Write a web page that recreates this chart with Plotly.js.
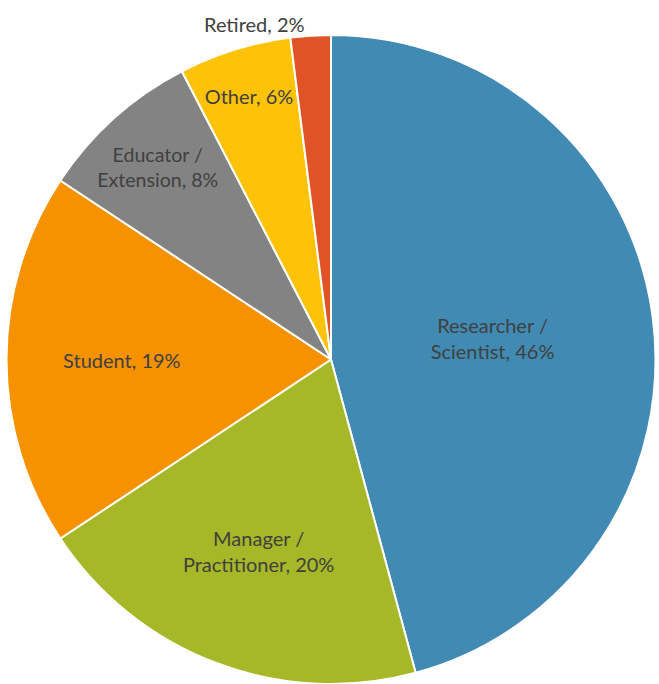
<!DOCTYPE html>
<html>
<head>
<meta charset="utf-8">
<script src="https://cdn.plot.ly/plotly-3.0.1.min.js"></script>
<style>html,body{margin:0;padding:0;background:#fff;}#chart{width:659px;height:684px;}</style>
</head>
<body>
<div id="chart"></div>
<script>
const labels = ["Researcher /<br>Scientist", "Manager /<br>Practitioner", "Student", "Educator /<br>Extension", "Other", "Retired"];
const values = [45.8, 19.9, 18.6, 8.1, 5.6, 2.0];
const colors = ["#418AB3", "#A6B727", "#F69200", "#838383", "#FEC306", "#DF5327"];
const positions = ["inside", "inside", "inside", "inside", "inside", "outside"];

const trace = {
  type: "pie",
  labels: labels,
  values: values,
  sort: false,
  direction: "clockwise",
  rotation: 0,
  marker: { colors: colors, line: { color: "#ffffff", width: 2 } },
  texttemplate: "%{label}, %{percent:.0%}",
  textposition: positions,
  insidetextorientation: "horizontal",
  textfont: { family: "Lato, 'Open Sans', sans-serif", size: 20, color: "#404040" },
  outsidetextfont: { family: "Lato, 'Open Sans', sans-serif", size: 20, color: "#404040" },
  automargin: false,
  showlegend: false,
  hoverinfo: "label+percent"
};

const layout = {
  width: 659,
  height: 684,
  margin: { l: 6, r: 3, t: 35, b: 0 },
  paper_bgcolor: "#ffffff",
  showlegend: false
};

Plotly.newPlot("chart", [trace], layout, { displayModeBar: false, staticPlot: true });
</script>
</body>
</html>
